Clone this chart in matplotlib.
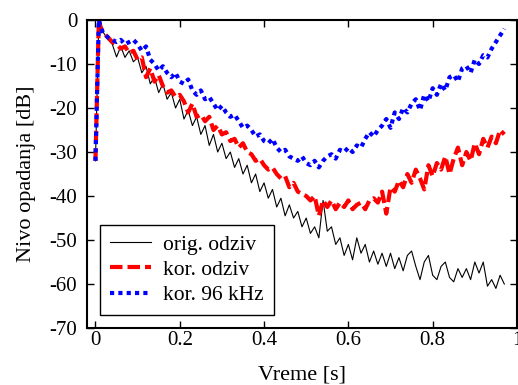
import numpy as np
import matplotlib
matplotlib.use('Agg')
import matplotlib.pyplot as plt

plt.rcParams['font.family'] = ['Liberation Serif', 'DejaVu Serif']
plt.rcParams['font.size'] = 15

# time axis: onset, then 10 ms steps
t_start = [0.0, 0.003, 0.006, 0.008, 0.012, 0.016]
t_body = [round(0.02 + 0.01 * i, 2) for i in range(96)]
vreme = t_start + t_body

orig_start = [-32, -20, -8, 0, -1.5, -2.5]
orig_body = [-3, -4.5, -5.5, -8.4, -6, -8.5, -7, -9.5, -8.5, -12,
             -10.5, -14.5, -13, -16.5, -14.5, -18, -16.5, -20, -18, -22.5,
             -20.5, -24, -22, -26, -24, -28.5, -26, -30, -28, -31.5,
             -30, -33.5, -31.5, -35, -33, -37, -35, -39, -37, -40.5,
             -38.5, -42.5, -40.5, -44.5, -42, -45, -43.5, -47, -45, -48.5,
             -47, -49.5, -41, -48, -47, -51, -49.5, -53.5, -51, -54.5,
             -49.5, -53, -51, -55, -52.5, -55.5, -53, -56, -53, -56.5,
             -54, -57, -53.5, -52.5, -56, -59, -55, -53.5, -58, -59,
             -56, -55, -58.5, -59.5, -56.5, -58.5, -56.5, -59, -55, -57.5,
             -55, -60.5, -59, -61, -58, -60]

kor_start = [-32, -20, -8, 0, -1.5, -2.5]
kor_body = [-3, -4, -5, -5.5, -6.5, -6, -7.5, -7, -9, -8.5,
            -13, -11, -14, -12.5, -15, -16.5, -16, -17.5, -17, -18.5,
            -21, -19, -22, -21.5, -23, -22, -25, -24, -26, -25.5,
            -27.5, -27, -29, -28, -30, -30.5, -32, -31.5, -33, -34,
            -33.5, -35, -36, -35.5, -38, -37, -39, -39.5, -40, -41,
            -40, -44.5, -41, -42.5, -41, -43, -41.5, -42.5, -41, -43,
            -42, -41.5, -43, -41, -40.5, -41.5, -39, -44, -38, -39,
            -36.5, -38, -35, -37, -34, -36, -38.5, -33, -35.5, -32.5,
            -34, -31, -35, -31.5, -29, -33, -30, -32, -28, -30.5,
            -27, -29, -26.5, -28, -25, -26]

kor96_start = [-32, -20, -8, 0, -1.5, -2.5]
kor96_body = [-3, -4, -4.5, -5, -4.5, -5.5, -5, -4.5, -5.5, -7,
              -6, -9, -10, -11.5, -10.5, -12, -13, -12, -14, -14.5,
              -13.5, -16, -17, -16, -18, -17.5, -19, -20.5, -19.5, -21,
              -22, -21.5, -23, -24.5, -24, -25, -26.5, -26, -27.5, -28,
              -27, -29, -30, -29.5, -31, -31.5, -32, -31, -32.5, -33,
              -32, -33.5, -32, -31, -30.5, -31.5, -29.5, -30, -29, -30,
              -28.5, -29, -27, -25.5, -26.5, -25, -24, -22.5, -24.5, -21,
              -22.5, -20, -21, -19, -18, -20.5, -17, -18.5, -15.5, -17,
              -14.5, -16, -13, -12.5, -14, -11, -10.5, -12, -9, -10,
              -8, -8.5, -6.5, -5, -3.5, -2]

orig = orig_start + orig_body
kor = kor_start + kor_body
kor96 = kor96_start + kor96_body

fig = plt.figure(figsize=(5.18, 3.85), dpi=100)
ax = fig.add_axes([0.168, 0.148, 0.830, 0.800])

ax.plot(vreme, orig, color='black', linewidth=0.8, label='orig. odziv')
ax.plot(vreme, kor, color='red', linewidth=3, linestyle=(0, (3, 1.2)), label='kor. odziv')
ax.plot(vreme, kor96, color='blue', linewidth=3, linestyle=(0, (1, 1)), label='kor. 96 kHz')

ax.set_xlim(-0.02, 1.0)
ax.set_ylim(-70, 0)
ax.set_xticks([0, 0.2, 0.4, 0.6, 0.8, 1.0])
ax.set_xticklabels(['0', '0.2', '0.4', '0.6', '0.8', '1'])
ax.set_yticks([0, -10, -20, -30, -40, -50, -60, -70])
ax.set_yticklabels(['0', '-10', '-20', '-30', '-40', '-50', '-60', '-70'])
ax.tick_params(direction='in', top=True, right=True, length=5, width=1,
               labelsize=15)
ax.tick_params(axis='y', pad=7)
ax.tick_params(axis='x', pad=2)
for s in ax.spines.values():
    s.set_linewidth(1.5)

ax.set_xlabel('Vreme [s]', fontsize=16, labelpad=11)
ax.set_ylabel('Nivo opadanja [dB]', fontsize=16, labelpad=10)

leg = ax.legend(loc='lower left', fancybox=False, edgecolor='black',
                framealpha=1, handlelength=1.9, handletextpad=0.6,
                borderaxespad=0.6, borderpad=0.45,
                labelspacing=0.25, fontsize=15.5)
leg.get_frame().set_linewidth(1.0)

fig.savefig('out.png', dpi=100)
